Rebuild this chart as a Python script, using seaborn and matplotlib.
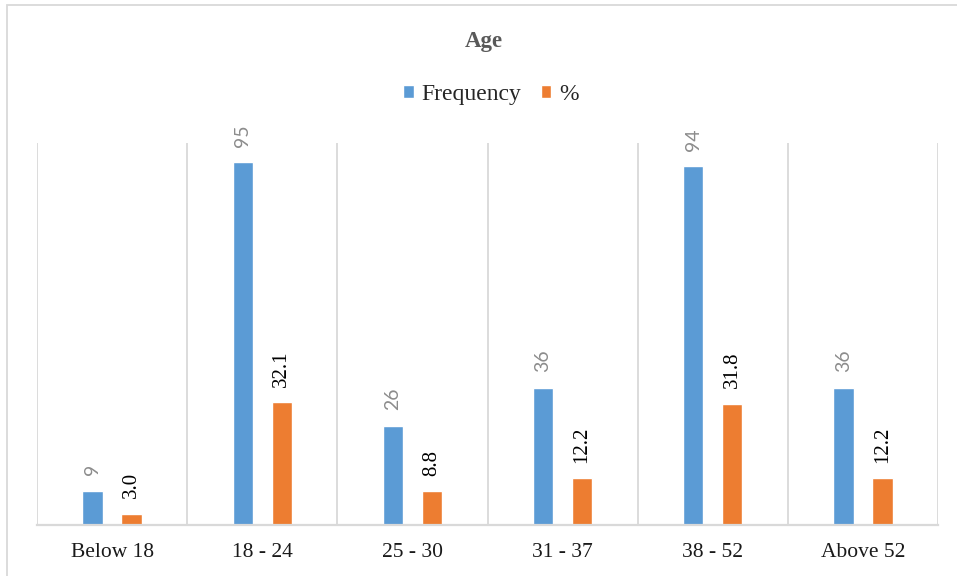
import numpy as np
import pandas as pd
import matplotlib
matplotlib.use("Agg")
import matplotlib.pyplot as plt
from matplotlib.patches import Rectangle
import seaborn as sns

# Age distribution of respondents
age_groups = ["Below 18", "18 - 24", "25 - 30", "31 - 37", "38 - 52", "Above 52"]
frequency = [9, 95, 26, 36, 94, 36]
percent = [3.0, 32.1, 8.8, 12.2, 31.8, 12.2]
series_names = ["Frequency", "%"]
series_colors = ["#5B9BD5", "#ED7D31"]

df = pd.DataFrame({
    "Age": age_groups * 2,
    "Value": frequency + percent,
    "Series": [series_names[0]] * len(age_groups) + [series_names[1]] * len(age_groups),
})

sns.set_theme(style="white")
plt.rcParams["font.family"] = ["Liberation Serif", "DejaVu Serif"]

fig = plt.figure(figsize=(9.57, 5.76), dpi=100)
ax = fig.add_axes([0.0387, 0.0885, 0.9415, 0.6632])

sns.barplot(data=df, x="Age", y="Value", hue="Series", hue_order=series_names,
            palette=series_colors, width=0.52, gap=0.48, ax=ax, saturation=1,
            errorbar=None)

ax.set_ylim(0, 100)
ax.set_xlim(-0.5, len(age_groups) - 0.5)
ax.set_xlabel("")
ax.set_ylabel("")
ax.set_yticks([])

# Category separators
grid_color = "#D9D9D9"
ax.set_xticks(np.arange(-0.5, len(age_groups), 1), minor=True)
ax.grid(which="minor", axis="x", color=grid_color, linewidth=1.3)
ax.tick_params(axis="x", which="both", length=0, pad=13)
for side in ["top", "right", "left"]:
    ax.spines[side].set_visible(False)
ax.spines["bottom"].set_color(grid_color)
ax.spines["bottom"].set_linewidth(1.6)
for lbl in ax.get_xticklabels():
    lbl.set_fontsize(15.5)
    lbl.set_color("#1a1a1a")

# Value labels
ax.bar_label(ax.containers[0], labels=[f"{v:d}" for v in frequency], rotation=90,
             padding=11, fontsize=14, color="#8C8C8C", family="Lato")
ax.bar_label(ax.containers[1], labels=[f"{v:.1f}" for v in percent], rotation=90,
             padding=11, fontsize=15, color="#000000")

# Legend
sns.move_legend(ax, "center", bbox_to_anchor=(0.513, 0.836), bbox_transform=fig.transFigure,
                ncol=2, frameon=False, title=None, fontsize=17, handlelength=0.45,
                handleheight=0.45, handletextpad=0.35, columnspacing=0.8)

# Title
fig.text(0.506, 0.928, "Age", ha="center", va="center", fontsize=16.5,
         fontweight="bold", color="#595959")

# Chart frame
fig.add_artist(Rectangle((0.0073, -0.2), 1.2, 1.2 - 0.0087, transform=fig.transFigure,
                         fill=False, edgecolor=grid_color, linewidth=1.3, clip_on=False))

fig.savefig("out.png", dpi=100, facecolor="white")
